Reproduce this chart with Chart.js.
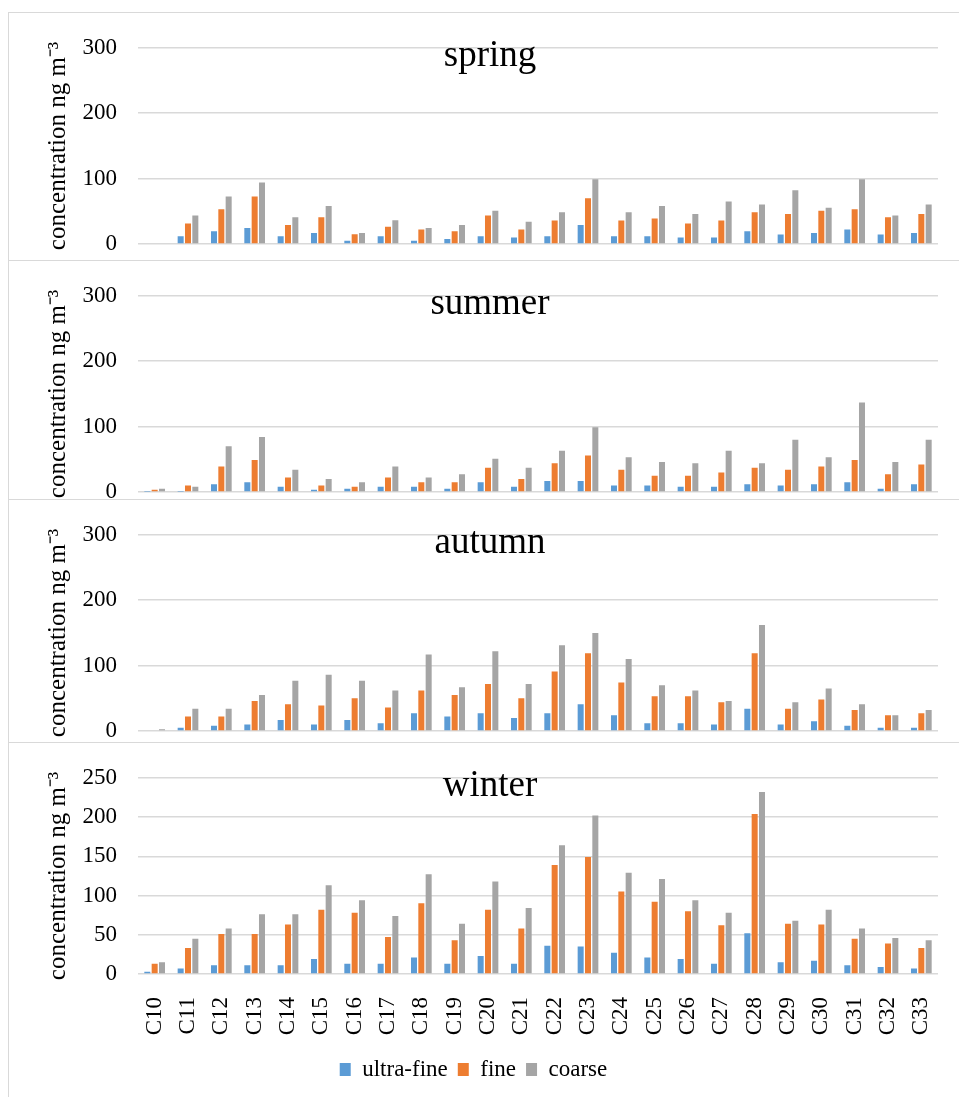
<!DOCTYPE html>
<html>
<head>
<meta charset="utf-8">
<script src="https://cdn.jsdelivr.net/npm/chart.js@4/dist/chart.umd.min.js"></script>
<style>
  html, body { margin: 0; padding: 0; background: #fff; width: 959px; height: 1097px; overflow: hidden; position: relative; }
  .panel { position: absolute; left: 8px; width: 962px; height: 361px; box-sizing: border-box; border: 1px solid #d9d9d9; background: #fff; }
  .panel canvas { display: block; }
</style>
</head>
<body>
<div class="panel" style="top:12px;z-index:1"><canvas id="spring" width="960" height="359"></canvas></div>
<div class="panel" style="top:260px;z-index:2"><canvas id="summer" width="960" height="359"></canvas></div>
<div class="panel" style="top:499px;z-index:3"><canvas id="autumn" width="960" height="359"></canvas></div>
<div class="panel" style="top:742px;z-index:4"><canvas id="winter" width="960" height="359"></canvas></div>
<script>
// Sampling sites
const categories = ['C10','C11','C12','C13','C14','C15','C16','C17','C18','C19','C20','C21',
                    'C22','C23','C24','C25','C26','C27','C28','C29','C30','C31','C32','C33'];
const seriesNames = ['ultra-fine', 'fine', 'coarse'];

// Concentrations (ng m-3) by particle size fraction and season
const springUltraFine = [1, 12, 19.5, 24.5, 12, 17, 5, 12, 5, 7.5, 12, 10, 12, 29, 12, 12, 10, 10, 19.5, 14.5, 17, 22, 14.5, 17];
const springFine      = [1, 31.5, 53, 72.5, 29, 41, 15, 26.5, 22, 19.5, 43.5, 22, 36, 70, 36, 39, 31.5, 36, 48.5, 46, 51, 53, 41, 46];
const springCoarse    = [1, 43.5, 72.5, 94, 41, 58, 17, 36.5, 24.5, 29, 51, 34, 48.5, 99, 48.5, 58, 46, 65, 60.5, 82, 55.5, 99, 43.5, 60.5];

const summerUltraFine = [0.5, 0.5, 12, 15, 8, 3.5, 5, 8, 8, 5, 15, 8, 17, 17, 10, 10, 8, 8, 12, 10, 12, 15, 5, 12];
const summerFine      = [3.5, 10, 39, 49, 22, 10, 8, 22, 15, 15, 37, 20, 44, 56, 34, 25, 25, 30, 37, 34, 39, 49, 27, 42];
const summerCoarse    = [5, 8, 70, 84, 34, 20, 15, 39, 22, 27, 51, 37, 63, 99, 53, 46, 44, 63, 44, 80, 53, 137, 46, 80];

const autumnUltraFine = [1, 5, 8, 10, 17, 10, 17, 12, 27, 22, 27, 20, 27, 41, 24, 12, 12, 10, 34, 10, 15, 8, 5, 5];
const autumnFine      = [1, 22, 22, 46, 41, 39, 50, 36, 62, 55, 72, 50, 91, 119, 74, 53, 53, 44, 119, 34, 48, 32, 24, 27];
const autumnCoarse    = [2.5, 34, 34, 55, 77, 86, 77, 62, 117, 67, 122, 72, 131, 150, 110, 70, 62, 46, 162, 44, 65, 41, 24, 32];

const winterUltraFine = [3, 7, 11, 11, 11, 19, 13, 13, 21, 13, 23, 13, 36, 35, 27, 21, 19, 13, 52, 15, 17, 11, 9, 7];
const winterFine      = [13, 33, 51, 51, 63, 82, 78, 47, 90, 43, 82, 58, 139, 149, 105, 92, 80, 62, 204, 64, 63, 45, 39, 33];
const winterCoarse    = [15, 45, 58, 76, 76, 113, 94, 74, 127, 64, 118, 84, 164, 202, 129, 121, 94, 78, 232, 68, 82, 58, 46, 43];

const seriesColors = ['#5B9BD5', '#ED7D31', '#A5A5A5'];
const serif = "'Liberation Serif', 'Times New Roman', serif";
const ink = '#000000';

// Season name drawn inside the plot, above the bars
const seasonTitle = {
  id: 'seasonTitle',
  afterDraw(chart, args, opts) {
    const ctx = chart.ctx;
    ctx.save();
    ctx.font = '37px ' + serif;
    ctx.fillStyle = ink;
    ctx.textAlign = 'center';
    ctx.textBaseline = 'alphabetic';
    ctx.fillText(opts.text, chart.width / 2 + 1, 53);
    ctx.restore();
  }
};

function makeChart(id, series, yMax, yStep) {
  new Chart(document.getElementById(id), {
    type: 'bar',
    data: {
      labels: categories,
      datasets: series.map((values, i) => ({
        label: seriesNames[i],
        data: values,
        backgroundColor: seriesColors[i],
        borderWidth: 0
      }))
    },
    options: {
      responsive: false,
      animation: false,
      devicePixelRatio: 1,
      layout: { padding: { top: 28, right: 31, bottom: 11, left: 0 } },
      datasets: { bar: { categoryPercentage: 0.66, barPercentage: 0.82 } },
      plugins: {
        seasonTitle: { text: id },
        tooltip: { enabled: false },
        legend: {
          position: 'bottom',
          labels: {
            boxWidth: 11,
            boxHeight: 13,
            padding: 10,
            color: ink,
            font: { family: serif, size: 23 }
          }
        }
      },
      scales: {
        x: {
          grid: { display: false },
          border: { display: false },
          ticks: {
            autoSkip: false,
            minRotation: 90,
            maxRotation: 90,
            padding: 15,
            color: ink,
            font: { family: serif, size: 23 }
          },
          afterFit: (scale) => { scale.height = 74; }
        },
        y: {
          min: 0,
          max: yMax,
          grid: { color: '#d9d9d9', lineWidth: 1.5, drawTicks: false },
          border: { display: false },
          ticks: {
            stepSize: yStep,
            padding: 21,
            color: ink,
            font: { family: serif, size: 23 }
          },
          title: {
            display: true,
            text: 'concentration ng m⁻³',
            color: ink,
            font: { family: serif, size: 25 },
            padding: { top: 34, bottom: 0 }
          },
          afterFit: (scale) => { scale.width = 129; }
        }
      }
    },
    plugins: [seasonTitle]
  });
}

makeChart('spring', [springUltraFine, springFine, springCoarse], 300, 100);
makeChart('summer', [summerUltraFine, summerFine, summerCoarse], 300, 100);
makeChart('autumn', [autumnUltraFine, autumnFine, autumnCoarse], 300, 100);
makeChart('winter', [winterUltraFine, winterFine, winterCoarse], 250, 50);
</script>
</body>
</html>
